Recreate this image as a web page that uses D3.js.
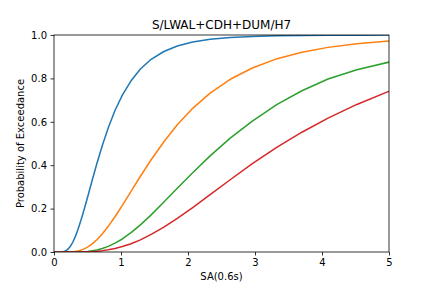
<!DOCTYPE html>
<html>
<head>
<meta charset="utf-8">
<script src="https://cdn.jsdelivr.net/npm/d3@7"></script>
<style>
  html, body { margin: 0; padding: 0; background: #fff; }
  svg { display: block; font-family: "DejaVu Sans", sans-serif; }
</style>
</head>
<body>
<svg id="chart" width="432" height="288"></svg>
<script>
const title = "S/LWAL+CDH+DUM/H7";
const xLabel = "SA(0.6s)";
const yLabel = "Probability of Exceedance";
const xTicks = [0, 1, 2, 3, 4, 5];
const yTicks = [0, 0.2, 0.4, 0.6, 0.8, 1.0];

const sa = [0.01, 0.05, 0.075, 0.085, 0.095, 0.11, 0.12, 0.14, 0.155, 0.175, 0.195, 0.22, 0.25, 0.28, 0.315, 0.355, 0.40, 0.45, 0.50, 0.57, 0.64, 0.72, 0.81, 0.91, 1.02, 1.15, 1.29, 1.45, 1.64, 1.84, 2.07, 2.33, 2.63, 2.96, 3.33, 3.70, 4.09, 4.52, 5.0];

const seriesBlue   = [0, 0, 0, 0.0001, 0.0002, 0.0004, 0.0007, 0.0017, 0.0031, 0.0057, 0.0097, 0.0169, 0.0289, 0.0449, 0.0685, 0.101, 0.1437, 0.196, 0.2514, 0.3307, 0.408, 0.490, 0.573, 0.652, 0.723, 0.789, 0.843, 0.888, 0.924, 0.949, 0.9675, 0.980, 0.9884, 0.9934, 0.9964, 0.998, 0.9989, 0.9994, 0.9997];
const seriesOrange = [0, 0, 0, 0, 0, 0, 0, 0, 0, 0.0001, 0.00015, 0.0003, 0.0007, 0.0014, 0.0026, 0.0048, 0.0085, 0.0144, 0.0224, 0.0374, 0.0565, 0.0832, 0.1184, 0.1625, 0.215, 0.279, 0.349, 0.425, 0.508, 0.586, 0.662, 0.732, 0.796, 0.848, 0.891, 0.9206, 0.943, 0.960, 0.9728];
const seriesGreen  = [0, 0, 0, 0, 0, 0, 0, 0, 0, 0, 0, 0, 0, 0.0001, 0.0002, 0.0004, 0.0008, 0.0016, 0.0028, 0.0054, 0.0094, 0.0159, 0.026, 0.0408, 0.060, 0.089, 0.125, 0.171, 0.230, 0.294, 0.365, 0.443, 0.525, 0.603, 0.680, 0.743, 0.797, 0.840, 0.875];
const seriesRed    = [0, 0, 0, 0, 0, 0, 0, 0, 0, 0, 0, 0, 0, 0, 0, 0, 0.0003, 0.0006, 0.0011, 0.0021, 0.0037, 0.0063, 0.0104, 0.0166, 0.025, 0.038, 0.056, 0.081, 0.115, 0.155, 0.205, 0.264, 0.333, 0.407, 0.483, 0.552, 0.617, 0.680, 0.741];

const seriesList = [seriesBlue, seriesOrange, seriesGreen, seriesRed];
const colors = ["#1f77b4", "#ff7f0e", "#2ca02c", "#d62728"];

const svg = d3.select("#chart");
const margin = { left: 54, right: 43, top: 35, bottom: 36 };
const W = 432, H = 288;
const x = d3.scaleLinear().domain([0, 5]).range([margin.left, W - margin.right]);
const y = d3.scaleLinear().domain([0, 1]).range([H - margin.bottom, margin.top]);

svg.append("defs").append("clipPath").attr("id", "clip")
  .append("rect")
  .attr("x", x(0)).attr("y", y(1))
  .attr("width", x(5) - x(0)).attr("height", y(0) - y(1));

const line = d3.line()
  .x((d, i) => x(sa[i]))
  .y(d => y(d));

const g = svg.append("g").attr("clip-path", "url(#clip)");
seriesList.forEach((s, k) => {
  g.append("path")
    .datum(s)
    .attr("d", line)
    .attr("fill", "none")
    .attr("stroke", colors[k])
    .attr("stroke-width", 1.5)
    .attr("stroke-linejoin", "round")
    .attr("stroke-linecap", "square");
});

const xAxis = svg.append("g")
  .attr("transform", `translate(0,${y(0)})`)
  .call(d3.axisBottom(x).tickValues(xTicks).tickFormat(d3.format("d")).tickSizeOuter(0).tickSize(3.5).tickPadding(3.5));
const yAxis = svg.append("g")
  .attr("transform", `translate(${x(0)},0)`)
  .call(d3.axisLeft(y).tickValues(yTicks).tickFormat(d3.format(".1f")).tickSizeOuter(0).tickSize(3.5).tickPadding(3.5));

[xAxis, yAxis].forEach(a => {
  a.select(".domain").remove();
  a.selectAll(".tick line").attr("stroke", "#000").attr("stroke-width", 0.8);
  a.selectAll(".tick text").attr("font-size", 10).attr("font-family", "DejaVu Sans").attr("fill", "#000");
});

// spines
svg.append("rect")
  .attr("x", x(0)).attr("y", y(1))
  .attr("width", x(5) - x(0)).attr("height", y(0) - y(1))
  .attr("fill", "none").attr("stroke", "#000").attr("stroke-width", 0.8);

svg.append("text")
  .attr("x", (x(0) + x(5)) / 2).attr("y", 29)
  .attr("text-anchor", "middle").attr("font-size", 12).attr("fill", "#000")
  .text(title);

svg.append("text")
  .attr("x", (x(0) + x(5)) / 2).attr("y", 280)
  .attr("text-anchor", "middle").attr("font-size", 10).attr("fill", "#000")
  .text(xLabel);

svg.append("text")
  .attr("transform", `translate(24,${(y(0) + y(1)) / 2}) rotate(-90)`)
  .attr("text-anchor", "middle").attr("font-size", 10).attr("fill", "#000")
  .text(yLabel);
</script>
</body>
</html>
